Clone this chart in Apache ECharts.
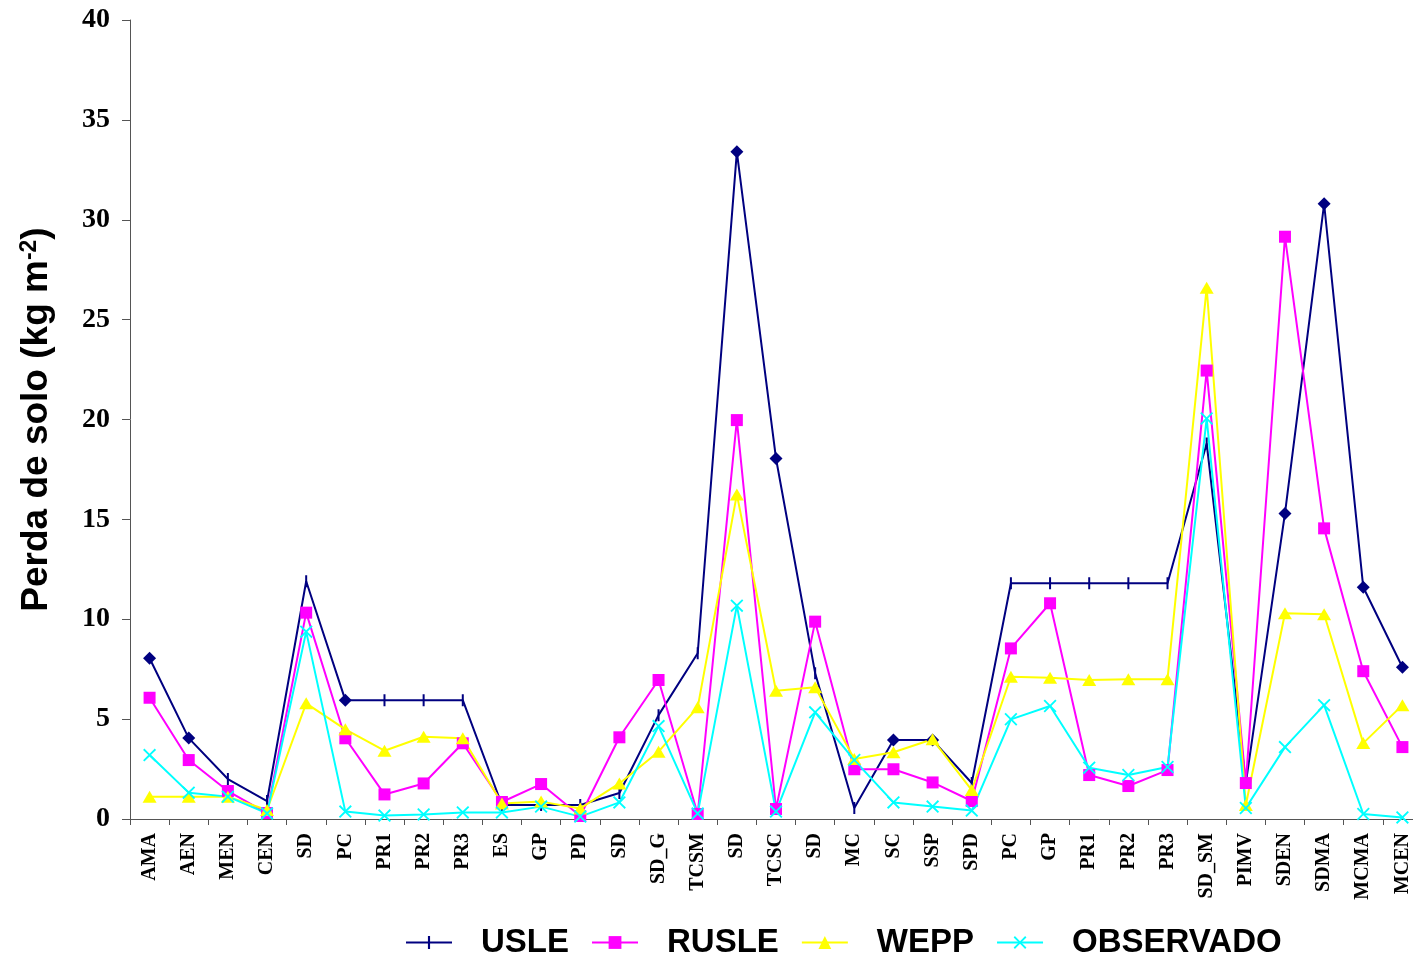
<!DOCTYPE html>
<html>
<head>
<meta charset="utf-8">
<script src="https://cdn.jsdelivr.net/npm/echarts@6/dist/echarts.min.js"></script>
<style>
html,body{margin:0;padding:0;background:#fff;overflow:hidden;}
#chart{width:1430px;height:961px;}
</style>
</head>
<body>
<div id="chart"></div>
<script>
const categories = ['AMA','AEN','MEN','CEN','SD','PC','PR1','PR2','PR3','ES','GP','PD','SD','SD_G','TCSM','SD','TCSC','SD','MC','SC','SSP','SPD','PC','GP','PR1','PR2','PR3','SD_SM','PIMV','SDEN','SDMA','MCMA','MCEN'];
const yTicks = [0,5,10,15,20,25,30,35,40];
const usle = [8.05,4.05,2.0,0.9,11.9,5.95,5.95,5.95,5.95,0.7,0.7,0.7,1.3,5.2,8.3,33.4,18.05,7.3,0.55,3.95,3.95,1.8,11.8,11.8,11.8,11.8,11.8,18.8,1.8,15.3,30.8,11.6,7.6];
const rusle = [6.07,2.95,1.4,0.3,10.33,4.04,1.23,1.78,3.79,0.85,1.75,0.15,4.09,6.96,0.25,19.97,0.5,9.88,2.49,2.49,1.83,0.9,8.54,10.8,2.2,1.65,2.45,22.45,1.8,29.15,14.55,7.4,3.6];
const wepp = [1.12,1.12,1.12,0.45,5.79,4.49,3.42,4.12,4.04,0.78,0.87,0.53,1.78,3.37,5.59,16.25,6.42,6.59,3.0,3.34,3.99,1.45,7.12,7.07,6.96,7.0,7.0,26.6,0.7,10.3,10.25,3.8,5.7];
const observado = [3.2,1.32,1.12,0.28,9.38,0.37,0.17,0.23,0.33,0.33,0.62,0.12,0.83,4.65,0.28,10.68,0.37,5.34,2.95,0.83,0.62,0.42,4.99,5.66,2.57,2.2,2.6,20.05,0.55,3.6,5.7,0.25,0.08];
const usleDiamondIdx = [0,1,5,15,16,19,20,29,30,31,32];

const TICK = 'path://M0,0L0.01,0L0.01,0.01Z M5,0L7,0L7,12L5,12Z M11.99,11.99L12,11.99L12,12Z';
const XMARK = 'path://M0,1L1,0L5,4L9,0L10,1L6,5L10,9L9,10L5,6L1,10L0,9L4,5Z';

const usleData = usle.map((v,i)=> usleDiamondIdx.indexOf(i) >= 0
  ? {value:v, symbol:'diamond', symbolSize:13}
  : {value:v});

const chart = echarts.init(document.getElementById('chart'), null, {renderer:'canvas'});
const base = {type:'line', animation:false, emphasis:{disabled:true}, z:2};
chart.setOption({
  backgroundColor:'#fff',
  animation:false,
  grid:{left:130, top:20, width:1292, height:799, containLabel:false},
  legend:{
    top:921, left:400,
    itemWidth:46, itemHeight:16, itemGap:22,
    textStyle:{fontFamily:'Liberation Sans', fontWeight:'bold', fontSize:33, color:'#000', padding:[0,0,0,24]},
    data:['USLE','RUSLE','WEPP','OBSERVADO']
  },
  xAxis:{
    type:'category', data:categories, boundaryGap:true,
    axisLine:{lineStyle:{color:'#555', width:1}},
    axisTick:{show:true, length:6, alignWithLabel:false, lineStyle:{color:'#555'}},
    axisLabel:{rotate:90, interval:0, margin:14, fontFamily:'Liberation Serif', fontWeight:'bold', fontSize:20, color:'#000'},
    splitLine:{show:false}
  },
  yAxis:{
    type:'value', min:0, max:40, interval:5,
    name:'Perda de solo (kg m{sup|-2})',
    nameLocation:'middle', nameGap:74, nameRotate:90,
    nameTextStyle:{fontFamily:'Liberation Sans', fontWeight:'bold', fontSize:37, color:'#000',
      rich:{sup:{fontFamily:'Liberation Sans', fontWeight:'bold', fontSize:23, color:'#000', verticalAlign:'top', padding:[0,0,15,0]}}},
    axisLine:{show:true, lineStyle:{color:'#555', width:1}},
    axisTick:{show:true, inside:false, length:8, lineStyle:{color:'#555'}},
    axisLabel:{margin:20, fontFamily:'Liberation Serif', fontWeight:'bold', fontSize:28, color:'#000',
      formatter:(v)=> yTicks.indexOf(v)>=0 ? String(v) : ''},
    splitLine:{show:false}
  },
  series:[
    Object.assign({}, base, {name:'USLE', data:usleData, symbol:TICK, symbolSize:12, showAllSymbol:true,
      lineStyle:{color:'#000080', width:2}, itemStyle:{color:'#000080'}}),
    Object.assign({}, base, {name:'RUSLE', data:rusle, symbol:'rect', symbolSize:12, showAllSymbol:true,
      lineStyle:{color:'#FF00FF', width:2}, itemStyle:{color:'#FF00FF'}}),
    Object.assign({}, base, {name:'WEPP', data:wepp, symbol:'triangle', symbolSize:[14,12], showAllSymbol:true,
      lineStyle:{color:'#FFFF00', width:2}, itemStyle:{color:'#FFFF00'}}),
    Object.assign({}, base, {name:'OBSERVADO', data:observado, symbol:XMARK, symbolSize:13, showAllSymbol:true,
      lineStyle:{color:'#00FFFF', width:2}, itemStyle:{color:'#00FFFF'}})
  ]
});
</script>
</body>
</html>
